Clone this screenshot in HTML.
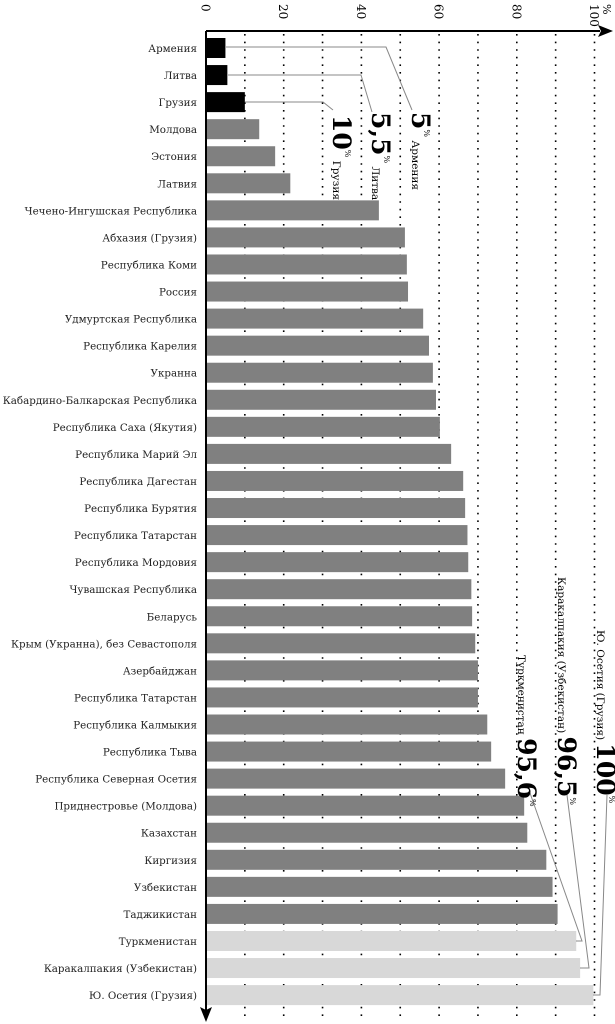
<!DOCTYPE html>
<html><head><meta charset="utf-8"><style>html,body{margin:0;padding:0;background:#fff}svg{display:block}</style></head>
<body>
<svg width="615" height="1024" xmlns="http://www.w3.org/2000/svg" font-family="'DejaVu Serif','Liberation Serif',serif">
<g id="grid" stroke="#000" stroke-width="1.6" stroke-dasharray="1.6 6"></g>
<g id="bars"></g>
<g id="labels" font-size="10.3" text-anchor="end" fill="#222"></g>
<g stroke="#888" stroke-width="1" fill="none">
<polyline points="226,47 386,47 412,110"/>
<polyline points="228,75 361,75 372,112"/>
<polyline points="245,102 323,102 333,110"/>
<polyline points="576,941 582,941 530,793"/>
<polyline points="580,968 589,968 567,795"/>
<polyline points="593,995 600,995 607,795"/>
</g>
<g fill="#000">
<text transform="translate(333,115) rotate(90)"><tspan font-size="25" font-weight="bold">10</tspan><tspan font-size="8" dy="-12">%</tspan><tspan font-size="10.5" dy="12"> Грузия</tspan></text>
<text transform="translate(372,112) rotate(90)"><tspan font-size="25" font-weight="bold">5,5</tspan><tspan font-size="8" dy="-12">%</tspan><tspan font-size="10.5" dy="12"> Литва</tspan></text>
<text transform="translate(412,112) rotate(90)"><tspan font-size="25" font-weight="bold">5</tspan><tspan font-size="8" dy="-12">%</tspan><tspan font-size="10.5" dy="12"> Армения</tspan></text>
<text transform="translate(518,655) rotate(90)"><tspan font-size="10.5">Туркменистан </tspan><tspan font-size="25" font-weight="bold">95,6</tspan><tspan font-size="8" dy="-12">%</tspan></text>
<text transform="translate(558,577) rotate(90)"><tspan font-size="10.5">Каракалпакия (Узбекистан) </tspan><tspan font-size="25" font-weight="bold">96,5</tspan><tspan font-size="8" dy="-12">%</tspan></text>
<text transform="translate(597,630) rotate(90)"><tspan font-size="10.5">Ю. Осетия (Грузия) </tspan><tspan font-size="25" font-weight="bold">100</tspan><tspan font-size="8" dy="-12">%</tspan></text>
</g>
<g id="ticks" font-size="12" fill="#000"></g>
<g stroke="#000" stroke-width="2">
<line x1="206" y1="31" x2="600" y2="31"/>
<line x1="206" y1="31" x2="206" y2="1010"/>
</g>
<polygon points="613,31 598,25 601,31 598,37" fill="#000"/>
<polygon points="206,1022 200,1007 206,1010 212,1007" fill="#000"/>
<script>
var ns="http://www.w3.org/2000/svg";
function X(v){return 206+v*3.885;}
var data=[["Армения",5,"#000"],["Литва",5.5,"#000"],["Грузия",10,"#000"],["Молдова",13.7],["Эстония",17.8],["Латвия",21.7],["Чечено-Ингушская Республика",44.5],["Абхазия (Грузия)",51.2],["Республика Коми",51.7],["Россия",52],["Удмуртская Республика",55.9],["Республика Карелия",57.4],["Укранна",58.4],["Кабардино-Балкарская Республика",59.2],["Республика Саха (Якутия)",60.2],["Республика Марий Эл",63.1],["Республика Дагестан",66.2],["Республика Бурятия",66.7],["Республика Татарстан",67.3],["Республика Мордовия",67.5],["Чувашская Республика",68.3],["Беларусь",68.5],["Крым (Укранна), без Севастополя",69.3],["Азербайджан",70],["Республика Татарстан",70],["Республика Калмыкия",72.4],["Республика Тыва",73.4],["Республика Северная Осетия",77],["Приднестровье (Молдова)",81.9],["Казахстан",82.7],["Киргизия",87.6],["Узбекистан",89.2],["Таджикистан",90.5],["Туркменистан",95.3,"#d8d8d8"],["Каракалпакия (Узбекистан)",96.3,"#d8d8d8"],["Ю. Осетия (Грузия)",99.7,"#d8d8d8"]];
var g=document.getElementById("grid");
for(var i=1;i<=10;i++){var l=document.createElementNS(ns,"line");var x=X(i*10);l.setAttribute("x1",x);l.setAttribute("x2",x);l.setAttribute("y1",34);l.setAttribute("y2",1020);g.appendChild(l);}
var b=document.getElementById("bars"),lb=document.getElementById("labels");
data.forEach(function(d,i){var cy=48+27.06*i;var r=document.createElementNS(ns,"rect");r.setAttribute("x",206);r.setAttribute("y",cy-10);r.setAttribute("width",X(d[1])-206);r.setAttribute("height",20);r.setAttribute("fill",d[2]||"#808080");b.appendChild(r);
var t=document.createElementNS(ns,"text");t.setAttribute("x",197);t.setAttribute("y",cy+4);t.textContent=d[0];lb.appendChild(t);});
var tk=document.getElementById("ticks");
for(var v=0;v<=100;v+=20){var t=document.createElementNS(ns,"text");var x=X(v)-4.5;t.setAttribute("transform","translate("+x+",4) rotate(90)");t.textContent=v;tk.appendChild(t);}
var p=document.createElementNS(ns,"text");p.setAttribute("transform","translate(603,4) rotate(90)");p.setAttribute("font-size","11");p.textContent="%";tk.appendChild(p);
</script>
</svg>
</body></html>
